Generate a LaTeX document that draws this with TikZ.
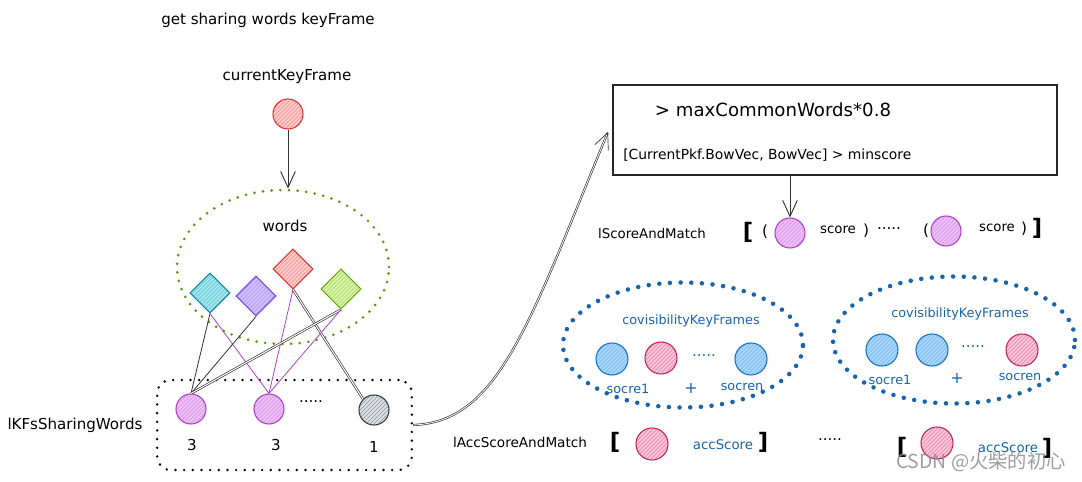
\documentclass[tikz,border=0pt]{standalone}
\usepackage{fontspec}
\setmainfont{DejaVu Sans}
\newfontfamily\cjkfont{Noto Sans CJK SC}
\usetikzlibrary{arrows.meta,shapes.geometric,patterns}
\definecolor{redS}{HTML}{E03131}\definecolor{redF}{HTML}{FFC9C9}
\definecolor{cyanS}{HTML}{0C8599}\definecolor{cyanF}{HTML}{99E9F2}
\definecolor{violetS}{HTML}{7048E8}\definecolor{violetF}{HTML}{D0BFFF}
\definecolor{greenS}{HTML}{66A80F}\definecolor{greenF}{HTML}{D8F5A2}
\definecolor{grapeS}{HTML}{AE3EC9}\definecolor{grapeF}{HTML}{EEBEFA}
\definecolor{grayS}{HTML}{343A40}\definecolor{grayF}{HTML}{DEE2E6}
\definecolor{blueS}{HTML}{1971C2}\definecolor{blueF}{HTML}{A5D8FF}
\definecolor{pinkS}{HTML}{C2255C}\definecolor{pinkF}{HTML}{FCC2D7}
\definecolor{txtblue}{HTML}{1864AB}
\definecolor{dotgreen}{HTML}{5C940D}
\definecolor{dotblue}{HTML}{1864AB}
\tikzset{
  lbl/.style={font=\fontsize{11.3}{13}\selectfont, inner sep=0pt, text=black},
  small/.style={font=\fontsize{10}{12}\selectfont, inner sep=0pt},
  bluelbl/.style={font=\fontsize{9.6}{11}\selectfont, inner sep=0pt, text=txtblue},
  brk/.style={font=\fontsize{17}{17}\bfseries, inner sep=0pt},
  paren/.style={font=\fontsize{11.5}{12}\selectfont, inner sep=0pt},
  hatch/.style 2 args={draw=#1, line width=0.8pt, preaction={fill=#2}, pattern=north east lines, pattern color=#1!55},
  kf/.style={circle, minimum size=22.5pt, inner sep=0pt},
  kfb/.style={circle, minimum size=24pt, inner sep=0pt},
  word/.style={diamond, minimum size=30pt, inner sep=0pt, aspect=1},
  arr/.style={draw=black!80, line width=0.7pt, -{Straight Barb[length=12pt,width=11pt]}},
  link/.style={line width=0.6pt},
  greendots/.style={draw=dotgreen, line width=2.2pt, line cap=round, dash pattern=on 0pt off 6.5pt},
  bluedots/.style={draw=dotblue, line width=3.4pt, line cap=round, dash pattern=on 0pt off 8pt},
  blackdots/.style={draw=black, line width=2pt, line cap=round, dash pattern=on 0pt off 6.5pt},
}
\begin{document}
\begin{tikzpicture}[x=0.75pt,y=-0.75pt]
\useasboundingbox (0,0) rectangle (1082,482);
% ---------- left part ----------
\node[lbl] (title) at (268,20) {get sharing words keyFrame};
\node[lbl] (ckfLbl) at (287,77) {currentKeyFrame};
\node[kf, hatch={redS}{redF}] (ckf) at (288,114) {};
\node[ellipse, greendots, minimum width=159pt, minimum height=115.5pt, inner sep=0pt] (wordsSet) at (283,267) {};
\node[lbl] (wordsLbl) at (285,226) {words};
\draw[arr] (ckf.south) -- (ckf.south |- wordsSet.north);

\node[word, hatch={cyanS}{cyanF}] (wc) at (210,293) {};
\node[word, hatch={violetS}{violetF}] (wv) at (256,296) {};
\node[word, hatch={redS}{redF}] (wr) at (293,269) {};
\node[word, hatch={greenS}{greenF}] (wg) at (341,289) {};

\node[draw, blackdots, rounded corners=10pt, minimum width=191pt, minimum height=67.5pt] (kfBox) at (284.5,425) {};
\node[kf, hatch={grapeS}{grapeF}] (p1) at (191,409) {};
\node[kf, hatch={grapeS}{grapeF}] (p2) at (269,409) {};
\node[kf, hatch={grayS}{grayF}] (g1) at (374,410) {};
\node[lbl] (dotsA) at (311,402) {.....};
\node[lbl] (n1) at (192,445) {3};
\node[lbl] (n2) at (276,445) {3};
\node[lbl] (n3) at (374,447) {1};
\node[lbl] (kfsLbl) at (75,425) {lKFsSharingWords};

\draw[link, black!80] (wc.south) -- (p1.north);
\draw[link, grapeS] (wc.south) -- (p2.north);
\draw[link, black!80] (wv.south) -- (p1.north);
\draw[link, grapeS] (wr.south) -- (p2.north);
\draw[link, black!80, double=white, double distance=0.8pt, line width=0.5pt] (wr.south) -- (g1.north west);
\draw[link, black!80, double=white, double distance=0.8pt, line width=0.5pt] (wg.south) -- (p1.north);
\draw[link, grapeS] (wg.south) -- (p2.north);

% ---------- curved arrow ----------
\coordinate (tipC) at (608,132);
\draw[arr, double=white, double distance=0.6pt, line width=0.5pt] (kfBox.east) .. controls (500,422) and (530,320) .. (tipC);

% ---------- condition box ----------
\node[draw=black!85, line width=0.8pt, minimum width=333pt, minimum height=67.5pt, inner sep=0pt] (cond) at (835,130) {};
\node[font=\fontsize{13.6}{15}\selectfont, inner sep=0pt] (condA) at (773,110) {> maxCommonWords*0.8};
\node[font=\fontsize{10.4}{12}\selectfont, inner sep=0pt, anchor=west] (condB) at (623,155) {[CurrentPkf.BowVec, BowVec] > minscore};

% ---------- score and match ----------
\node[small] (scLbl) at (652,234) {lScoreAndMatch};
\node[brk] (b1) at (748,232) {[};
\node[paren] (pa1) at (765,232) {(};
\node[kf, hatch={grapeS}{grapeF}] (sc1) at (790,233) {};
\node[small] (s1) at (838,230) {score};
\node[paren] (pb1) at (866,231) {)};
\node[lbl] (dotsS) at (889,229) {.....};
\node[paren] (pa2) at (926,231) {(};
\node[kf, hatch={grapeS}{grapeF}] (sc2) at (946,231) {};
\node[small] (s2) at (997,228) {score};
\node[paren] (pb2) at (1024,229) {)};
\node[brk] (b2) at (1037,228) {]};
\draw[arr] (sc1.north |- cond.south) -- (sc1.north);

% ---------- covisibility sets ----------
\node[ellipse, bluedots, minimum width=180pt, minimum height=93.75pt, inner sep=0pt] (cov1) at (683,345) {};
\node[bluelbl] (cov1Lbl) at (691,321) {covisibilityKeyFrames};
\node[kfb, hatch={blueS}{blueF}] (c11) at (612,359) {};
\node[kfb, hatch={pinkS}{pinkF}] (c12) at (661,358) {};
\node[lbl, text=txtblue] (c1d) at (704,356) {.....};
\node[kfb, hatch={blueS}{blueF}] (c13) at (751,359) {};
\node[bluelbl] (c1s1) at (628,389) {socre1};
\node[bluelbl, font=\fontsize{12}{12}\selectfont] (c1p) at (691,388) {+};
\node[bluelbl] (c1sn) at (742,387) {socren};

\node[ellipse, bluedots, minimum width=181.5pt, minimum height=95.25pt, inner sep=0pt] (cov2) at (954,340) {};
\node[bluelbl] (cov2Lbl) at (960,314) {covisibilityKeyFrames};
\node[kfb, hatch={blueS}{blueF}] (c21) at (882,350) {};
\node[kfb, hatch={blueS}{blueF}] (c22) at (932,350) {};
\node[lbl, text=txtblue] (c2d) at (973,347) {.....};
\node[kfb, hatch={pinkS}{pinkF}] (c23) at (1022,350) {};
\node[bluelbl] (c2s1) at (890,380) {socre1};
\node[bluelbl, font=\fontsize{12}{12}\selectfont] (c2p) at (957,378) {+};
\node[bluelbl] (c2sn) at (1020,377) {socren};

% ---------- acc score ----------
\node[lbl, font=\fontsize{10.2}{12}\selectfont] (accLbl) at (520,442) {lAccScoreAndMatch};
\node[brk] (ab1) at (615,442) {[};
\node[kfb, hatch={pinkS}{pinkF}] (a1) at (652,444) {};
\node[bluelbl, font=\fontsize{10}{11}\selectfont] (acc1) at (723,445) {accScore};
\node[brk] (ab2) at (763,442) {]};
\node[lbl] (dotsAcc) at (830,440) {.....};
\node[brk] (ab3) at (902,447) {[};
\node[kfb, hatch={pinkS}{pinkF}] (a2) at (937,443) {};
\node[bluelbl, font=\fontsize{10}{11}\selectfont] (acc2) at (1008,448) {accScore};
\node[brk] (ab4) at (1047,448) {]};

% ---------- watermark ----------
\node[font=\cjkfont\fontsize{14.5}{16}\selectfont, text=black!45, opacity=0.85, inner sep=0pt] (wm) at (981,462) {CSDN @火柴的初心};
\end{tikzpicture}
\end{document}
